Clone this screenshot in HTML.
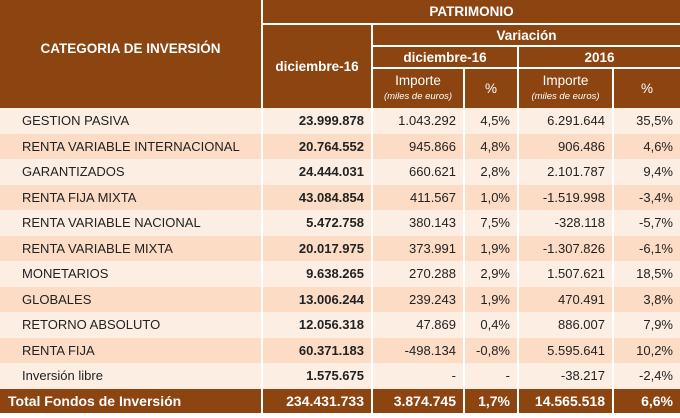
<!DOCTYPE html>
<html><head><meta charset="utf-8"><style>
*{margin:0;padding:0;box-sizing:border-box}
body{width:680px;height:418px;background:#fff;position:relative;overflow:hidden;font-family:"Liberation Sans",sans-serif}
.c{position:absolute;display:flex;align-items:center;font-size:13px;color:#222;white-space:nowrap}
.h{background:#8c4411;color:#fff;justify-content:center;font-weight:bold;font-size:13.5px}
.r{justify-content:flex-end;padding-right:7px}
.l{padding-left:22px}
.b{font-weight:bold}
.sub{flex-direction:column;font-weight:normal;font-size:13.5px;line-height:16px}
.sub i{font-size:9.5px}
</style></head><body>
<div class="c h" style="left:0;top:0;width:261px;height:108px;padding-bottom:12px">CATEGORIA DE INVERSIÓN</div>
<div class="c h" style="left:263px;top:0;width:417px;height:23px">PATRIMONIO</div>
<div class="c h" style="left:263px;top:25px;width:108px;height:83px;padding-top:0">diciembre-16</div>
<div class="c h" style="left:373px;top:25px;width:307px;height:20px">Variación</div>
<div class="c h" style="left:373px;top:47px;width:144px;height:20px">diciembre-16</div>
<div class="c h" style="left:519px;top:47px;width:161px;height:20px">2016</div>
<div class="c h sub" style="left:373px;top:69px;width:90px;height:39px">Importe<i>(miles de euros)</i></div>
<div class="c h sub" style="left:465px;top:69px;width:52px;height:39px">%</div>
<div class="c h sub" style="left:519px;top:69px;width:93px;height:39px">Importe<i>(miles de euros)</i></div>
<div class="c h sub" style="left:614px;top:69px;width:66px;height:39px">%</div>

<style>
.row{position:absolute;left:0;width:680px;height:25.5px}
.row .c{top:0;height:100%}
.row .c:nth-child(1){left:0;width:261px}
.row .c:nth-child(2){left:263px;width:108px}
.row .c:nth-child(3){left:373px;width:90px}
.row .c:nth-child(4){left:465px;width:52px}
.row .c:nth-child(5){left:519px;width:93px}
.row .c:nth-child(6){left:614px;width:66px}
.A .c{background:#fdeee3}.B .c{background:#fcdcc5}
.T .c{background:#8c4411;color:#fff;font-weight:bold;font-size:14px}
</style>
<div class="row A" style="top:108px"><div class="c l">GESTION PASIVA</div><div class="c r b">23.999.878</div><div class="c r">1.043.292</div><div class="c r">4,5%</div><div class="c r">6.291.644</div><div class="c r">35,5%</div></div>
<div class="row B" style="top:133.5px"><div class="c l">RENTA VARIABLE INTERNACIONAL</div><div class="c r b">20.764.552</div><div class="c r">945.866</div><div class="c r">4,8%</div><div class="c r">906.486</div><div class="c r">4,6%</div></div>
<div class="row A" style="top:159px"><div class="c l">GARANTIZADOS</div><div class="c r b">24.444.031</div><div class="c r">660.621</div><div class="c r">2,8%</div><div class="c r">2.101.787</div><div class="c r">9,4%</div></div>
<div class="row B" style="top:184.5px"><div class="c l">RENTA FIJA MIXTA</div><div class="c r b">43.084.854</div><div class="c r">411.567</div><div class="c r">1,0%</div><div class="c r">-1.519.998</div><div class="c r">-3,4%</div></div>
<div class="row A" style="top:210px"><div class="c l">RENTA VARIABLE NACIONAL</div><div class="c r b">5.472.758</div><div class="c r">380.143</div><div class="c r">7,5%</div><div class="c r">-328.118</div><div class="c r">-5,7%</div></div>
<div class="row B" style="top:235.5px"><div class="c l">RENTA VARIABLE MIXTA</div><div class="c r b">20.017.975</div><div class="c r">373.991</div><div class="c r">1,9%</div><div class="c r">-1.307.826</div><div class="c r">-6,1%</div></div>
<div class="row A" style="top:261px"><div class="c l">MONETARIOS</div><div class="c r b">9.638.265</div><div class="c r">270.288</div><div class="c r">2,9%</div><div class="c r">1.507.621</div><div class="c r">18,5%</div></div>
<div class="row B" style="top:286.5px"><div class="c l">GLOBALES</div><div class="c r b">13.006.244</div><div class="c r">239.243</div><div class="c r">1,9%</div><div class="c r">470.491</div><div class="c r">3,8%</div></div>
<div class="row A" style="top:312px"><div class="c l">RETORNO ABSOLUTO</div><div class="c r b">12.056.318</div><div class="c r">47.869</div><div class="c r">0,4%</div><div class="c r">886.007</div><div class="c r">7,9%</div></div>
<div class="row B" style="top:337.5px"><div class="c l">RENTA FIJA</div><div class="c r b">60.371.183</div><div class="c r">-498.134</div><div class="c r">-0,8%</div><div class="c r">5.595.641</div><div class="c r">10,2%</div></div>
<div class="row A" style="top:363px"><div class="c l">Inversión libre</div><div class="c r b">1.575.675</div><div class="c r">-</div><div class="c r">-</div><div class="c r">-38.217</div><div class="c r">-2,4%</div></div>
<div class="row T" style="top:388.5px;height:24px"><div class="c" style="padding-left:8px">Total Fondos de Inversión</div><div class="c r">234.431.733</div><div class="c r">3.874.745</div><div class="c r">1,7%</div><div class="c r">14.565.518</div><div class="c r">6,6%</div></div>
</body></html>
